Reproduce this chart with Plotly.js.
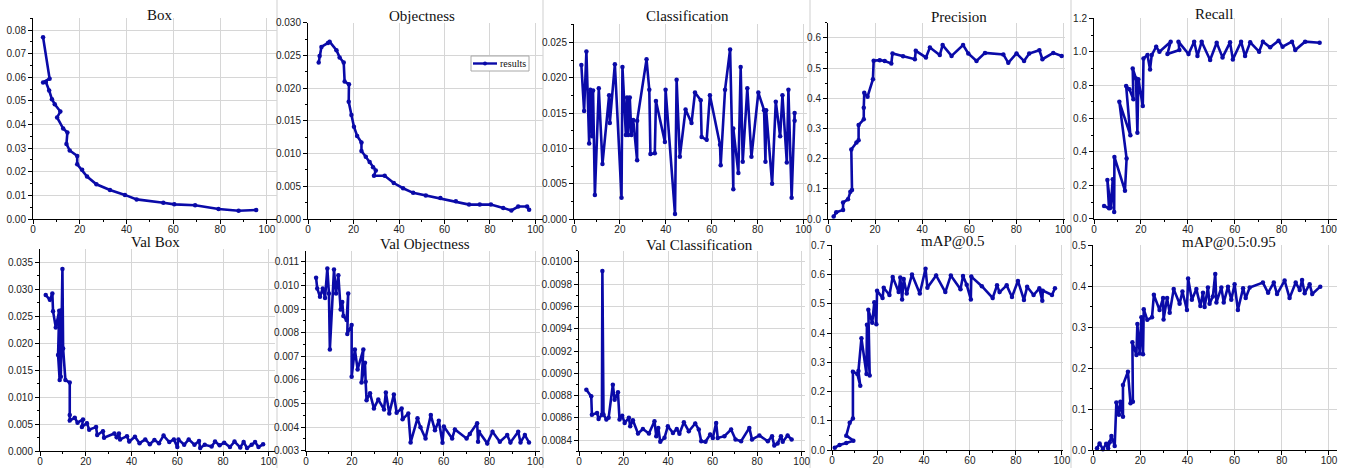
<!DOCTYPE html>
<html>
<head>
<meta charset="utf-8">
<script src="https://cdn.plot.ly/plotly-3.0.1.min.js"></script>
<style>html,body{margin:0;padding:0;background:#fff;}#chart{width:1346px;height:468px;}</style>
</head>
<body>
<div id="chart"></div>
<script>
// ---------- DATA ----------
const boxX = [4.3, 7.1, 4.3, 5.5, 6.9, 8.1, 9.3, 11.7, 10.3, 12.9, 14.7, 14.3, 15.7, 18.9, 18.9, 21.0, 23.1, 27.1, 32.9, 39.3, 44.3, 55.7, 60.4, 69.3, 79.3, 87.9, 95.4];
const boxY = [0.0770, 0.0594, 0.0578, 0.0580, 0.0544, 0.0507, 0.0486, 0.0455, 0.0430, 0.0383, 0.0366, 0.0318, 0.0290, 0.0267, 0.0232, 0.0208, 0.0180, 0.0147, 0.0123, 0.0102, 0.0083, 0.0069, 0.0062, 0.0058, 0.0042, 0.0035, 0.0038];

const objX = [4.7, 5.1, 5.9, 8.8, 9.5, 12.5, 13.9, 15.7, 16.1, 18.0, 17.9, 19.1, 20.2, 21.6, 23.5, 23.5, 25.4, 27.1, 28.6, 29.8, 29.0, 33.7, 37.7, 41.8, 46.2, 51.8, 58.2, 65.0, 70.8, 75.5, 80.4, 85.8, 89.4, 92.4, 96.3, 97.2];
const objY = [0.0239, 0.0249, 0.0263, 0.0269, 0.0271, 0.0258, 0.0247, 0.0239, 0.0210, 0.0206, 0.0179, 0.0159, 0.0141, 0.0127, 0.0117, 0.0104, 0.0095, 0.0087, 0.0079, 0.0074, 0.0066, 0.0066, 0.0055, 0.0047, 0.0040, 0.0036, 0.0032, 0.0027, 0.0022, 0.0022, 0.0022, 0.0017, 0.0013, 0.0019, 0.0019, 0.0014];

const clsX = [3.2, 4.4, 5.4, 6.6, 7.1, 7.9, 8.3, 9.1, 10.8, 12.4, 15.3, 15.6, 17.8, 20.7, 21.1, 22.6, 23.1, 23.6, 24.3, 25.0, 25.8, 27.5, 27.5, 31.6, 32.8, 33.3, 35.2, 35.7, 39.6, 39.9, 44.0, 44.7, 46.1, 48.6, 51.2, 52.7, 55.2, 55.6, 57.8, 59.2, 63.6, 63.9, 65.8, 68.0, 69.4, 69.4, 71.6, 72.6, 73.5, 75.5, 77.3, 80.3, 82.8, 83.4, 83.7, 86.3, 87.9, 89.8, 90.8, 92.7, 93.4, 94.8, 96.1, 96.1];
const clsY = [0.0218, 0.0153, 0.0237, 0.0107, 0.0183, 0.0117, 0.0182, 0.0034, 0.0185, 0.0078, 0.0175, 0.0136, 0.0219, 0.0030, 0.0215, 0.0119, 0.0172, 0.0119, 0.0172, 0.0119, 0.0140, 0.0083, 0.0139, 0.0226, 0.0183, 0.0092, 0.0093, 0.0167, 0.0109, 0.0183, 0.0007, 0.0197, 0.0088, 0.0155, 0.0136, 0.0179, 0.0168, 0.0116, 0.0112, 0.0175, 0.0105, 0.0076, 0.0183, 0.0240, 0.0042, 0.0128, 0.0065, 0.0215, 0.0081, 0.0185, 0.0088, 0.0179, 0.0154, 0.0081, 0.0154, 0.0050, 0.0166, 0.0117, 0.0175, 0.0080, 0.0183, 0.0030, 0.0150, 0.0139];

const precX = [2.4, 3.5, 6.4, 6.4, 8.5, 9.5, 10.2, 9.9, 12.1, 13.0, 13.0, 15.2, 15.2, 15.4, 16.8, 19.1, 19.4, 22.0, 24.1, 26.9, 27.4, 31.9, 36.9, 37.3, 41.6, 43.3, 47.5, 48.7, 52.5, 57.4, 59.6, 63.1, 66.7, 74.5, 76.6, 80.1, 83.3, 85.5, 89.8, 91.1, 95.7, 99.3];
const precY = [0.008, 0.022, 0.030, 0.055, 0.065, 0.090, 0.096, 0.230, 0.253, 0.261, 0.311, 0.330, 0.368, 0.418, 0.405, 0.463, 0.524, 0.526, 0.523, 0.515, 0.548, 0.539, 0.529, 0.557, 0.535, 0.568, 0.543, 0.576, 0.540, 0.576, 0.548, 0.523, 0.550, 0.545, 0.517, 0.548, 0.523, 0.548, 0.559, 0.529, 0.550, 0.540];

const recX = [4.3, 6.4, 5.7, 7.1, 8.0, 8.6, 8.7, 13.2, 13.9, 10.8, 15.5, 13.7, 15.1, 16.8, 16.5, 17.9, 18.5, 18.9, 20.8, 21.1, 22.8, 23.9, 24.6, 26.5, 27.9, 32.7, 31.3, 36.4, 36.0, 40.3, 42.7, 44.1, 45.9, 49.5, 52.3, 54.8, 58.0, 59.2, 62.7, 64.4, 66.6, 70.4, 72.0, 75.1, 78.7, 80.4, 84.4, 85.8, 90.0, 96.2];
const recY = [0.076, 0.062, 0.232, 0.065, 0.236, 0.040, 0.370, 0.168, 0.360, 0.700, 0.500, 0.795, 0.775, 0.715, 0.900, 0.840, 0.515, 0.835, 0.675, 0.960, 0.980, 0.894, 0.980, 1.030, 1.000, 1.060, 0.986, 1.010, 1.060, 0.986, 1.060, 0.974, 1.060, 0.950, 1.054, 0.966, 1.056, 0.954, 1.060, 0.974, 1.056, 1.000, 1.060, 1.026, 1.066, 1.030, 1.060, 1.010, 1.060, 1.054];

const vboxX = [2.5, 4.3, 5.4, 5.7, 6.9, 8.4, 7.9, 8.6, 9.4, 9.1, 9.8, 10.1, 11.1, 13.0, 13.0, 13.0, 15.2, 16.4, 18.8, 18.3, 20.5, 21.5, 24.5, 25.0, 27.5, 28.0, 32.5, 33.5, 34.5, 35.0, 38.0, 39.0, 41.5, 43.5, 46.0, 48.0, 50.0, 52.0, 54.0, 56.5, 58.5, 60.0, 60.5, 63.0, 65.0, 67.5, 69.5, 70.0, 72.0, 75.0, 76.5, 78.5, 80.5, 83.0, 85.0, 87.5, 89.0, 90.5, 92.5, 94.0, 95.5, 97.5];
const vboxY = [0.0289, 0.0280, 0.0292, 0.0259, 0.0229, 0.0260, 0.0178, 0.0132, 0.0261, 0.0138, 0.0337, 0.0190, 0.0132, 0.0127, 0.0067, 0.0057, 0.0062, 0.0053, 0.0059, 0.0045, 0.0052, 0.0040, 0.0045, 0.0030, 0.0037, 0.0025, 0.0033, 0.0026, 0.0033, 0.0022, 0.0028, 0.0018, 0.0027, 0.0015, 0.0022, 0.0013, 0.0021, 0.0015, 0.0029, 0.0017, 0.0022, 0.0008, 0.0022, 0.0012, 0.0022, 0.0012, 0.0019, 0.0006, 0.0012, 0.0009, 0.0018, 0.0011, 0.0016, 0.0008, 0.0018, 0.0007, 0.0017, 0.0006, 0.0012, 0.0017, 0.0008, 0.0013];

const vobjX = [4.4, 4.9, 6.1, 7.3, 8.3, 9.3, 10.0, 10.4, 12.2, 13.1, 14.1, 15.1, 15.8, 16.3, 17.7, 18.4, 18.0, 19.9, 19.9, 21.3, 22.5, 25.0, 24.2, 25.7, 26.0, 26.4, 27.9, 29.6, 31.5, 34.0, 34.8, 36.3, 38.3, 39.5, 41.7, 42.1, 44.6, 45.6, 48.6, 49.9, 52.1, 54.4, 56.2, 57.9, 59.5, 60.1, 63.7, 64.9, 70.0, 71.4, 74.6, 75.0, 75.4, 79.0, 81.3, 84.5, 87.7, 89.1, 92.5, 93.5, 95.4, 97.2];
const vobjY = [0.01032, 0.00987, 0.00952, 0.00987, 0.00947, 0.01072, 0.00966, 0.00729, 0.01067, 0.00966, 0.01043, 0.00898, 0.00930, 0.00870, 0.00853, 0.00966, 0.00794, 0.00832, 0.00613, 0.00729, 0.00644, 0.00729, 0.00589, 0.00672, 0.00592, 0.00514, 0.00543, 0.00479, 0.00517, 0.00475, 0.00547, 0.00458, 0.00538, 0.00461, 0.00479, 0.00433, 0.00458, 0.00335, 0.00437, 0.00399, 0.00352, 0.00451, 0.00387, 0.00427, 0.00334, 0.00402, 0.00352, 0.00390, 0.00352, 0.00371, 0.00416, 0.00338, 0.00380, 0.00331, 0.00380, 0.00338, 0.00366, 0.00335, 0.00380, 0.00335, 0.00366, 0.00335];

const vclsX = [3.3, 5.5, 5.8, 8.1, 8.8, 10.3, 10.5, 11.0, 12.3, 13.3, 15.2, 16.0, 17.5, 18.2, 19.4, 20.5, 22.4, 23.0, 24.2, 26.5, 28.7, 31.4, 33.9, 34.7, 35.6, 36.5, 38.4, 39.9, 42.2, 43.9, 45.1, 47.1, 49.3, 52.2, 53.8, 54.9, 56.8, 58.9, 60.1, 61.6, 62.3, 65.3, 68.3, 70.3, 72.8, 76.5, 77.7, 81.0, 84.8, 86.7, 87.7, 89.2, 90.7, 91.5, 93.7, 95.5];
const vclsY = [0.008852, 0.008793, 0.008629, 0.008644, 0.008590, 0.008629, 0.009918, 0.008630, 0.008585, 0.008600, 0.008897, 0.008763, 0.008829, 0.008585, 0.008620, 0.008555, 0.008600, 0.008525, 0.008579, 0.008460, 0.008500, 0.008460, 0.008570, 0.008436, 0.008510, 0.008385, 0.008421, 0.008525, 0.008465, 0.008500, 0.008457, 0.008560, 0.008480, 0.008550, 0.008495, 0.008390, 0.008385, 0.008450, 0.008420, 0.008555, 0.008420, 0.008436, 0.008495, 0.008406, 0.008390, 0.008510, 0.008406, 0.008442, 0.008390, 0.008436, 0.008352, 0.008370, 0.008436, 0.008385, 0.008442, 0.008406];

const map5X = [1.2, 3.3, 6.2, 9.3, 6.2, 7.7, 9.1, 9.1, 11.0, 12.3, 11.5, 12.8, 15.0, 15.2, 16.4, 15.8, 17.5, 18.4, 19.3, 19.6, 22.0, 22.5, 25.0, 26.4, 29.0, 29.7, 30.5, 31.2, 32.5, 34.8, 38.2, 40.7, 41.5, 45.3, 49.3, 51.7, 55.9, 57.0, 58.6, 60.4, 60.6, 65.2, 69.9, 71.8, 72.9, 76.0, 78.3, 80.9, 83.5, 84.9, 87.7, 90.2, 91.5, 91.7, 95.7, 97.0];
const map5Y = [0.008, 0.017, 0.024, 0.032, 0.049, 0.093, 0.108, 0.268, 0.260, 0.220, 0.270, 0.382, 0.260, 0.428, 0.255, 0.480, 0.435, 0.505, 0.430, 0.545, 0.520, 0.555, 0.530, 0.592, 0.540, 0.590, 0.515, 0.585, 0.535, 0.600, 0.535, 0.620, 0.555, 0.597, 0.540, 0.597, 0.550, 0.595, 0.565, 0.515, 0.593, 0.560, 0.520, 0.563, 0.540, 0.563, 0.523, 0.578, 0.513, 0.558, 0.530, 0.553, 0.510, 0.545, 0.530, 0.553];

const map95X = [1.7, 2.8, 4.2, 5.6, 6.4, 7.1, 7.8, 9.2, 9.9, 11.0, 11.6, 12.7, 12.7, 14.8, 15.9, 16.9, 16.7, 18.4, 18.8, 19.8, 20.5, 21.2, 21.5, 23.0, 25.0, 25.8, 28.2, 29.7, 29.9, 31.4, 32.5, 34.2, 36.7, 37.9, 39.8, 40.3, 41.9, 43.8, 45.5, 46.6, 47.3, 48.7, 49.4, 50.8, 51.8, 52.3, 54.4, 55.4, 57.2, 58.6, 60.0, 61.4, 63.6, 64.7, 66.4, 72.0, 74.2, 76.6, 78.0, 81.2, 83.3, 85.9, 87.6, 88.6, 89.7, 91.8, 92.9, 96.3];
const map95Y = [0.004, 0.016, 0.002, 0.015, 0.004, 0.019, 0.034, 0.010, 0.116, 0.086, 0.118, 0.081, 0.159, 0.191, 0.114, 0.118, 0.263, 0.232, 0.308, 0.236, 0.324, 0.234, 0.344, 0.318, 0.324, 0.379, 0.342, 0.371, 0.319, 0.371, 0.335, 0.393, 0.357, 0.387, 0.342, 0.419, 0.367, 0.393, 0.352, 0.384, 0.349, 0.397, 0.357, 0.375, 0.430, 0.360, 0.397, 0.360, 0.399, 0.367, 0.405, 0.342, 0.395, 0.371, 0.397, 0.409, 0.384, 0.409, 0.381, 0.414, 0.371, 0.409, 0.391, 0.415, 0.383, 0.405, 0.381, 0.399];

const titles = ['Box', 'Objectness', 'Classification', 'Precision', 'Recall', 'Val Box', 'Val Objectness', 'Val Classification', 'mAP@0.5', 'mAP@0.5:0.95'];
const seriesName = 'results';

// ---------- LAYOUT ----------
const W = 1346, H = 468;
const panels = [
  {x: boxX,  y: boxY,  px: [33, 277],   py: [18, 219],    xr: [0, 104.3], yr: [0, 0.0851],  t0: 0,      dt: 0.01,   fmt: '.2f', tx: 160,  ty: 15},
  {x: objX,  y: objY,  px: [308, 543],  py: [22.7, 219],  xr: [0, 103.3], yr: [0, 0.0300],  t0: 0,      dt: 0.005,  fmt: '.3f', tx: 422,  ty: 16},
  {x: clsX,  y: clsY,  px: [574, 807],  py: [24, 219],    xr: [0, 101.5], yr: [0, 0.0276],  t0: 0,      dt: 0.005,  fmt: '.3f', tx: 687,  ty: 16},
  {x: precX, y: precY, px: [828, 1065], py: [22.7, 219],  xr: [0, 100.7], yr: [0, 0.65],    t0: 0,      dt: 0.1,    fmt: '.1f', tx: 959,  ty: 17},
  {x: recX,  y: recY,  px: [1094, 1337],py: [18.3, 218.7],xr: [0, 103.6], yr: [0, 1.2],     t0: 0,      dt: 0.2,    fmt: '.1f', tx: 1214, ty: 14},
  {x: vboxX, y: vboxY, px: [40, 275],   py: [249.3, 451.3],xr: [0, 102.7],yr: [0, 0.03735], t0: 0,      dt: 0.005,  fmt: '.3f', tx: 155,  ty: 242},
  {x: vobjX, y: vobjY, px: [306, 540],  py: [250.7, 450.7],xr: [0, 102], yr: [0.003, 0.01147], t0: 0.003, dt: 0.001, fmt: '.3f', tx: 425, ty: 244},
  {x: vclsX, y: vclsY, px: [579, 805],  py: [250.7, 451.3],xr: [0, 101.5],yr: [0.0083, 0.0101], t0: 0.0084, dt: 0.0002, fmt: '.4f', tx: 699, ty: 245},
  {x: map5X, y: map5Y, px: [832, 1063], py: [245.3, 450], xr: [0, 100.5], yr: [0, 0.7],     t0: 0,      dt: 0.1,    fmt: '.1f', tx: 952,  ty: 241},
  {x: map95X,y: map95Y,px: [1093, 1337],py: [245.3, 450], xr: [0, 103.4], yr: [0, 0.5],     t0: 0,      dt: 0.1,    fmt: '.1f', tx: 1229, ty: 242}
];

const lineColor = '#0a0aa8';
const tickFont = {family: 'Liberation Sans, Arial, sans-serif', size: 10, color: '#222'};
const titleFont = {family: 'Liberation Serif, Times New Roman, serif', size: 15, color: '#111'};

const traces = [];
const layout = {
  width: W, height: H,
  margin: {l: 0, r: 0, t: 0, b: 0},
  paper_bgcolor: '#fff', plot_bgcolor: 'rgba(0,0,0,0)',
  showlegend: false,
  annotations: [],
  shapes: []
};

panels.forEach((p, i) => {
  const n = i + 1;
  const xa = 'xaxis' + (n === 1 ? '' : n);
  const ya = 'yaxis' + (n === 1 ? '' : n);
  const xref = 'x' + (n === 1 ? '' : n);
  const yref = 'y' + (n === 1 ? '' : n);
  traces.push({
    type: 'scatter', mode: 'lines+markers',
    x: p.x, y: p.y, xaxis: xref, yaxis: yref,
    name: seriesName,
    line: {color: lineColor, width: 2.6},
    marker: {color: lineColor, size: 4.5},
    cliponaxis: false
  });
  const common = {
    showline: true, linecolor: '#000', linewidth: 1,
    ticks: 'outside', ticklen: 4, tickcolor: '#000', tickwidth: 1,
    showgrid: true, gridcolor: '#d6d6d6', gridwidth: 1,
    zeroline: false, tickfont: tickFont, fixedrange: true
  };
  layout[xa] = Object.assign({}, common, {
    domain: [p.px[0] / W, p.px[1] / W], anchor: yref,
    range: p.xr, tick0: 0, dtick: 20, ticklabelstandoff: -3,
    minor: {ticks: 'outside', ticklen: 2, dtick: 10, tickcolor: '#000', showgrid: false}
  });
  layout[ya] = Object.assign({}, common, {
    domain: [(H - p.py[1]) / H, (H - p.py[0]) / H], anchor: xref,
    range: p.yr, tick0: p.t0, dtick: p.dt, tickformat: p.fmt,
    minor: {ticks: 'outside', ticklen: 2, dtick: p.dt / 2, tickcolor: '#000', showgrid: false}
  });
  layout.annotations.push({
    xref: 'paper', yref: 'paper', x: p.tx / W, y: 1 - p.ty / H,
    xanchor: 'center', yanchor: 'middle', showarrow: false,
    text: titles[i], font: titleFont
  });
});

// legend box of the Objectness panel ("results"), drawn compactly like the original
const lg = {x0: 471, x1: 529, y0: 56, y1: 71};
layout.shapes.push({type: 'rect', xref: 'paper', yref: 'paper',
  x0: lg.x0 / W, x1: lg.x1 / W, y0: 1 - lg.y1 / H, y1: 1 - lg.y0 / H,
  fillcolor: '#fff', line: {color: '#a8a8a8', width: 1}, layer: 'above'});
layout.shapes.push({type: 'line', xref: 'paper', yref: 'paper',
  x0: 473 / W, x1: 497 / W, y0: 1 - 63.5 / H, y1: 1 - 63.5 / H,
  line: {color: lineColor, width: 2.4}, layer: 'above'});
layout.shapes.push({type: 'circle', xref: 'paper', yref: 'paper',
  x0: 483 / W, x1: 487 / W, y0: 1 - 65.5 / H, y1: 1 - 61.5 / H,
  fillcolor: lineColor, line: {color: lineColor, width: 0}, layer: 'above'});
layout.annotations.push({xref: 'paper', yref: 'paper', x: 497.5 / W, y: 1 - 63.5 / H,
  xanchor: 'left', yanchor: 'middle', showarrow: false, text: seriesName,
  font: {family: 'Liberation Serif, Times New Roman, serif', size: 10, color: '#111'}});

// thin grey panel separators of the composite figure
[277, 543, 810, 1071].forEach(xp => {
  layout.shapes.push({type: 'line', xref: 'paper', yref: 'paper', x0: xp / W, x1: xp / W, y0: 0, y1: 1,
    line: {color: '#cfcfcf', width: 1}, layer: 'below'});
});

Plotly.newPlot('chart', traces, layout, {staticPlot: true, displayModeBar: false});
</script>
</body>
</html>
